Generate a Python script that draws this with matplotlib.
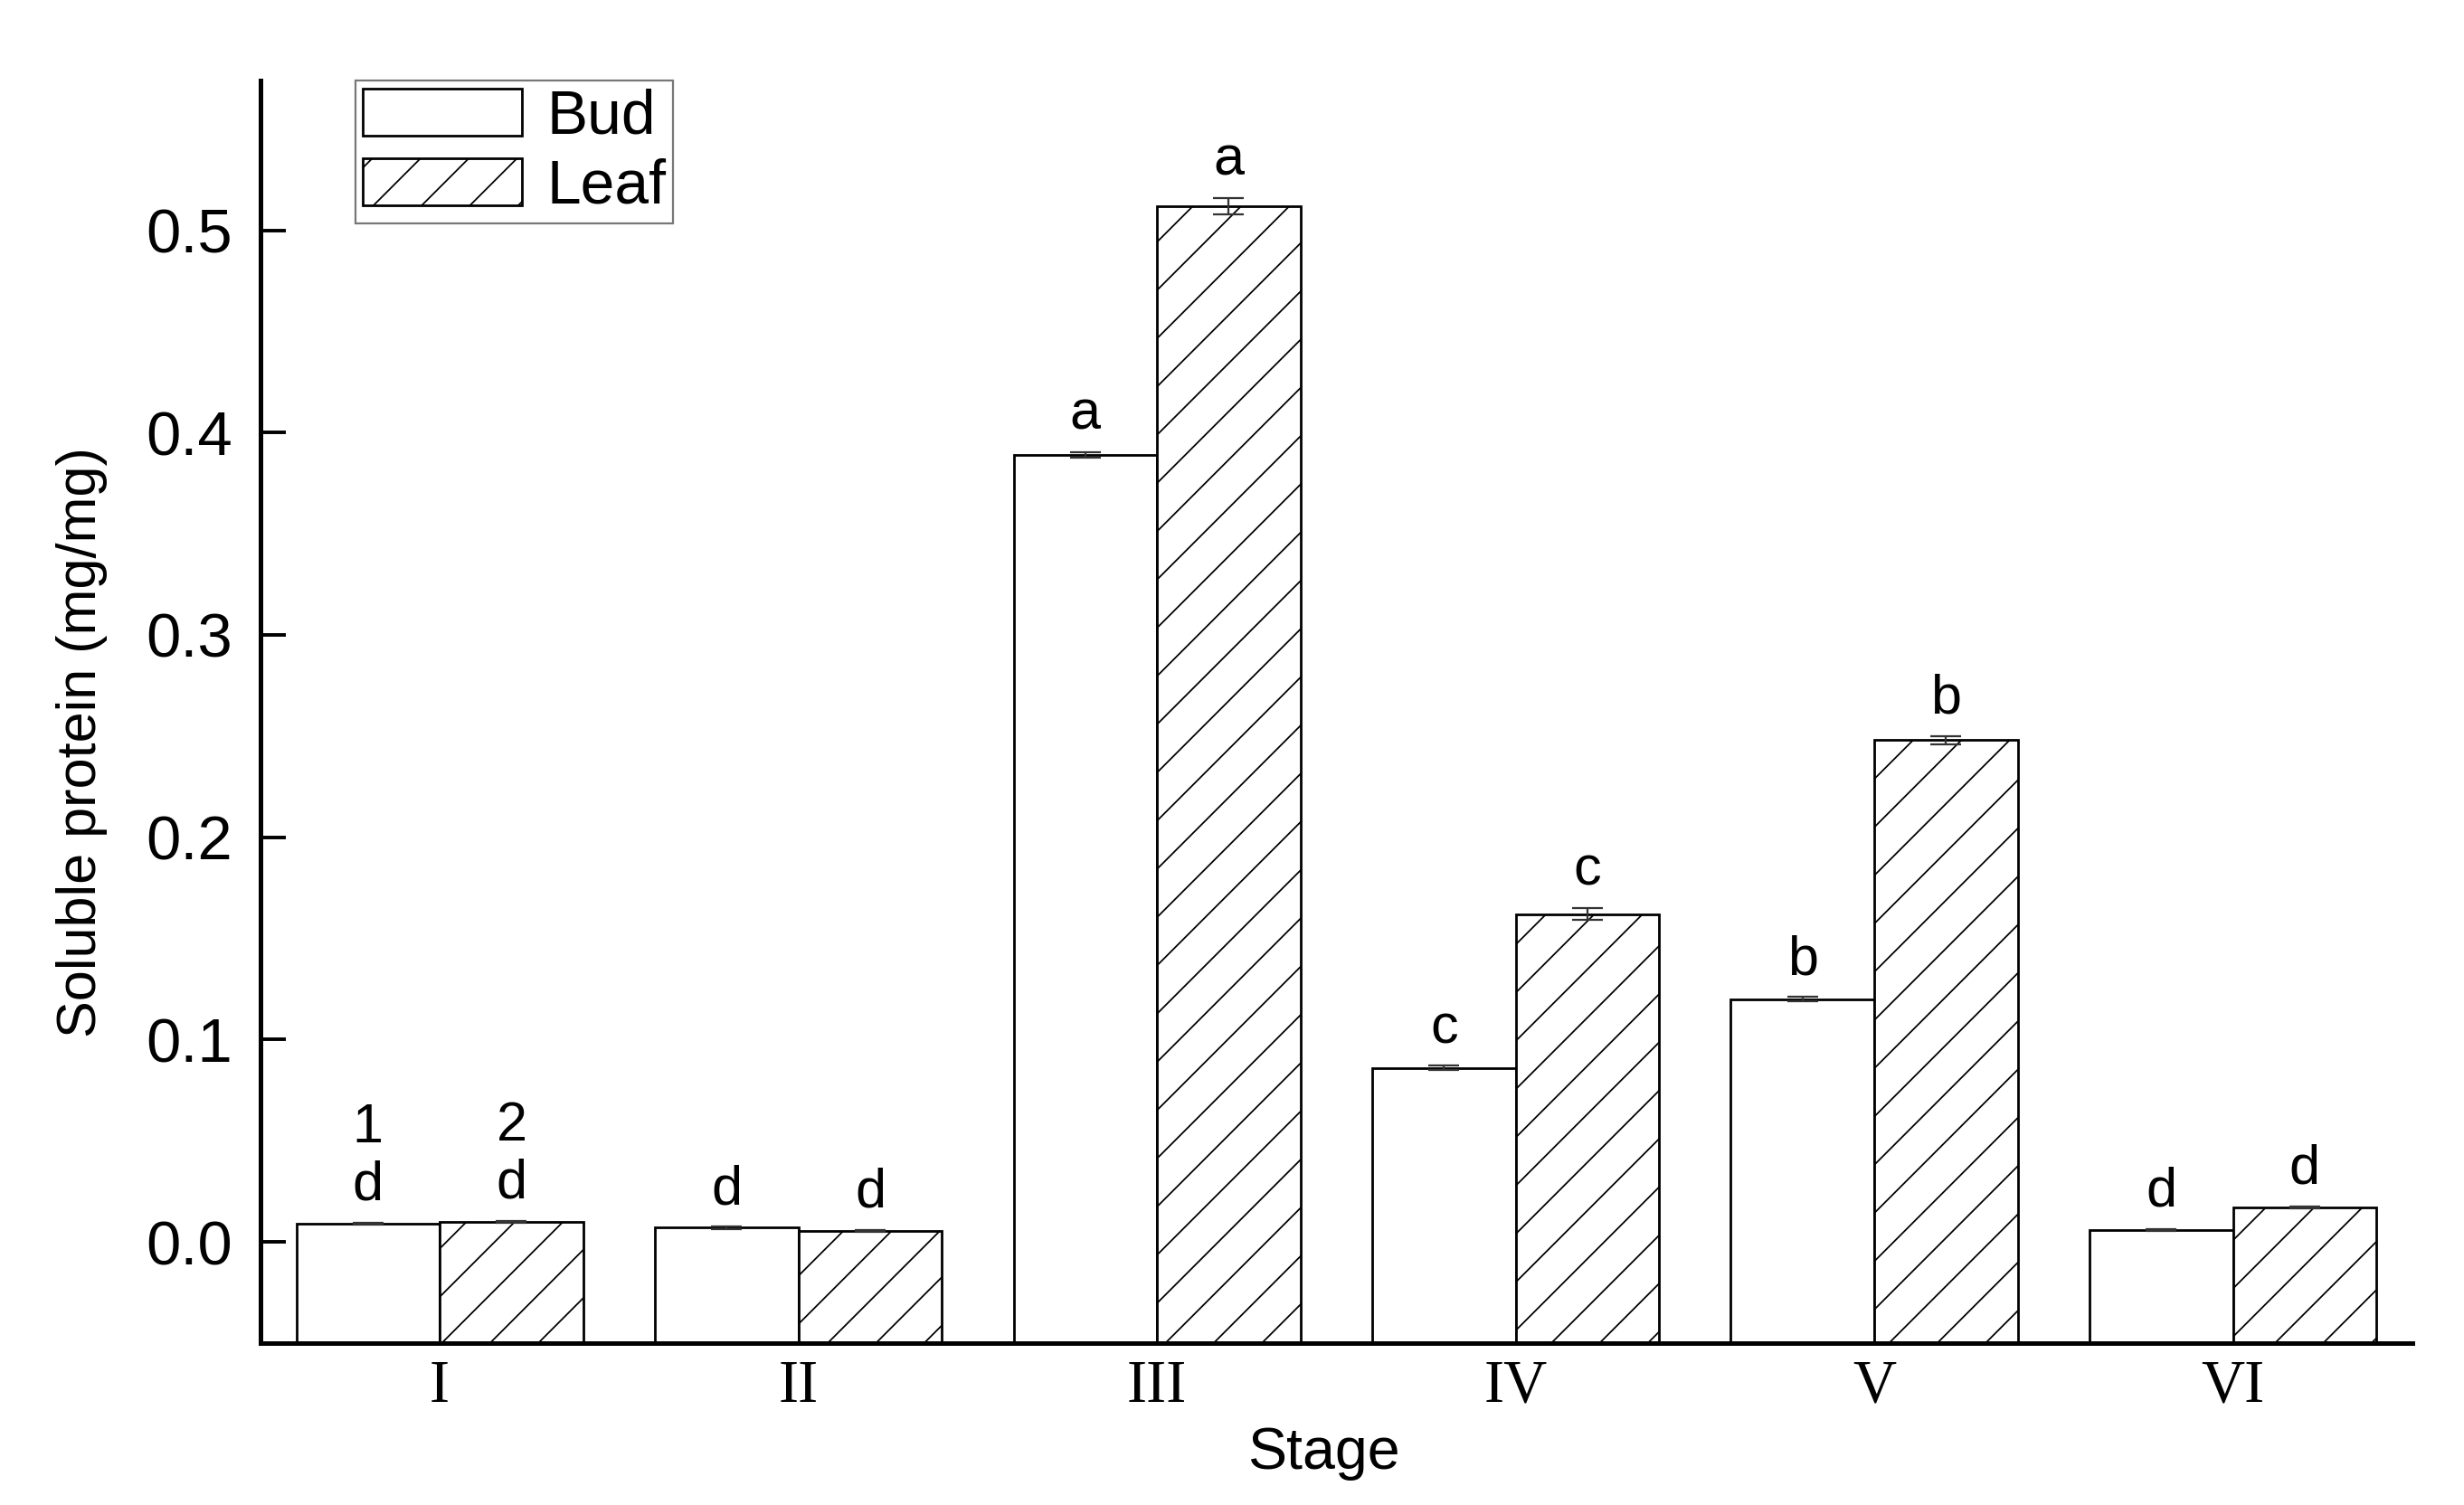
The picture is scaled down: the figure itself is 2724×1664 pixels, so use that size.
import numpy as np
import matplotlib.pyplot as plt

plt.rcParams['font.family'] = ['Liberation Sans', 'DejaVu Sans']
plt.rcParams['hatch.linewidth'] = 0.8

# values (mg/mg)
stages = ['I', 'II', 'III', 'IV', 'V', 'VI']
bud = [0.009, 0.007, 0.389, 0.086, 0.120, 0.006]
leaf = [0.010, 0.0055, 0.512, 0.162, 0.248, 0.017]
bud_err = [0.0005, 0.0005, 0.0015, 0.001, 0.001, 0.0005]
leaf_err = [0.0005, 0.0005, 0.004, 0.003, 0.002, 0.0005]
bud_letters = ['1\nd', 'd', 'a', 'c', 'b', 'd']
leaf_letters = ['2\nd', 'd', 'a', 'c', 'b', 'd']

DPI = 160
fig = plt.figure(figsize=(2724 / DPI, 1664 / DPI), dpi=DPI)
ax = fig.add_axes([0.1057, 0.1076, 0.8733, 0.8389])

ymin, ymax = -0.05, 0.574
x = np.arange(len(stages))
w = 0.4

# bars in the original are drawn from the bottom of the axis
ax.bar(x - w / 2, np.array(bud) - ymin, w, bottom=ymin, color='white',
       edgecolor='black', linewidth=1.25, label='Bud', zorder=2)
ax.bar(x + w / 2, np.array(leaf) - ymin, w, bottom=ymin, color='white',
       edgecolor='black', linewidth=1.25, hatch='/', label='Leaf', zorder=2)

ax.errorbar(x - w / 2, bud, yerr=bud_err, fmt='none', ecolor='#333333',
            elinewidth=1.0, capsize=7.5, capthick=1.0, zorder=3)
ax.errorbar(x + w / 2, leaf, yerr=leaf_err, fmt='none', ecolor='#333333',
            elinewidth=1.0, capsize=7.5, capthick=1.0, zorder=3)

for xi, v, e, t in zip(x - w / 2, bud, bud_err, bud_letters):
    ax.annotate(t, (xi, v + e), xytext=(0, 5.5), textcoords='offset points',
                ha='center', va='bottom', fontsize=27.5, linespacing=1.15)
for xi, v, e, t in zip(x + w / 2, leaf, leaf_err, leaf_letters):
    ax.annotate(t, (xi, v + e), xytext=(0, 5.5), textcoords='offset points',
                ha='center', va='bottom', fontsize=27.5, linespacing=1.15)

ax.set_xlim(-0.5, 5.5)
ax.set_ylim(ymin, ymax)
ax.set_yticks(np.arange(0, 0.51, 0.1))
ax.set_yticklabels(['%.1f' % t for t in np.arange(0, 0.51, 0.1)])
ax.set_xticks(x)
ax.set_xticklabels(stages, family=['Liberation Serif', 'DejaVu Serif'], fontsize=30)

ax.tick_params(axis='y', direction='in', length=12.5, width=1.75, labelsize=31, pad=14)
ax.tick_params(axis='x', length=0, pad=8)

for s in ['top', 'right']:
    ax.spines[s].set_visible(False)
for s in ['left', 'bottom']:
    ax.spines[s].set_linewidth(2.25)

ax.set_ylabel('Soluble protein (mg/mg)', fontsize=27.5)
ax.yaxis.set_label_coords(-0.071, 0.476)
ax.set_xlabel('Stage', fontsize=29)
ax.xaxis.set_label_coords(0.494, -0.066)

leg = ax.legend(loc='upper left', bbox_to_anchor=(0.044, 1.0), fontsize=30.5,
                frameon=True, fancybox=False, edgecolor='#555555',
                handlelength=2.6, handleheight=0.8, handletextpad=0.4,
                labelspacing=0.2, borderpad=0.12, borderaxespad=0)
leg.get_frame().set_linewidth(1.0)

fig.savefig('out.png', dpi=DPI, facecolor='white')
